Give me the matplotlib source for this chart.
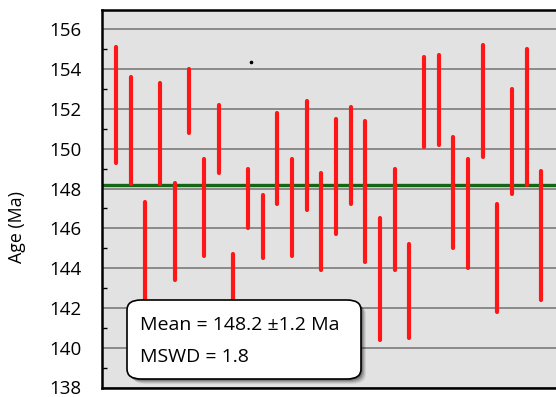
import numpy as np
import matplotlib.pyplot as plt
from matplotlib.patches import FancyBboxPatch

# ---------------------------------------------------------------
# Data (ages in Ma, 2-sigma bar ends)
# ---------------------------------------------------------------
analysis = np.arange(1, 31)
age_hi = [155.1, 153.6, 147.3, 153.3, 148.3, 154.0, 149.5, 152.2, 144.7, 149.0,
          147.7, 151.8, 149.5, 152.4, 148.8, 151.5, 152.1, 151.4, 146.5, 149.0,
          145.2, 154.6, 154.7, 150.6, 149.5, 155.2, 147.2, 153.0, 155.0, 148.9]
age_lo = [149.3, 148.25, 141.2, 148.25, 143.4, 150.8, 144.6, 148.8, 141.0, 146.0,
          144.5, 147.2, 144.6, 146.9, 143.9, 145.7, 147.2, 144.3, 140.4, 143.9,
          140.5, 150.1, 150.2, 145.0, 144.0, 149.6, 141.8, 147.75, 148.2, 142.4]
mean_age = 148.2
mean_err = 1.2
mswd = 1.8
stray_x, stray_y = [10.18], [154.38]

font = "Open Sans"

fig = plt.figure(figsize=(5.56, 3.97), dpi=100)
ax = fig.add_axes([101.5 / 556, 1 - 387.5 / 397, 1 - 101.5 / 556, 378 / 397])
ax.set_facecolor("#e2e2e2")

ax.set_xlim(0, 31)
ax.set_ylim(138, 157)

ax.set_yticks(np.arange(138, 157, 2))
ax.set_yticks(np.arange(139, 157, 2), minor=True)
ax.set_xticks([])
ax.grid(True, axis="y", which="major", color="#8a8a8a", lw=1.4, zorder=1)
ax.set_axisbelow(True)
ax.tick_params(axis="y", which="major", length=0, pad=14.5, labelsize=13.5)
ax.tick_params(axis="y", which="minor", direction="in", length=3.5, width=1.0)
for lab in ax.get_yticklabels():
    lab.set_fontfamily(font)

for side in ["left", "top", "bottom"]:
    ax.spines[side].set_linewidth(1.8)
    ax.spines[side].set_color("black")
ax.spines["right"].set_visible(False)

# weighted mean line
ax.axhline(mean_age, color="#146614", lw=2.4, zorder=2)

# error bars
ax.vlines(analysis, age_lo, age_hi, colors="#ff1616", lw=3.0,
          capstyle="round", zorder=3)
ax.plot(stray_x, stray_y, "o", color="black", ms=1.6, zorder=3)

fig.text(17.5 / 556, 1 - 227 / 397, "Age (Ma)", rotation=90, ha="center",
         va="center", fontsize=12.8, family=font)

# result box with soft drop shadow
bx, by, bw, bh = 127, 300, 234, 79
for i, a in enumerate([0.08, 0.10, 0.14, 0.18, 0.22]):
    off = 5 - i
    sh = FancyBboxPatch(((bx + off) / 556, 1 - (by + bh + off) / 397),
                        bw / 556, bh / 397,
                        boxstyle="round,pad=0,rounding_size=0.025",
                        transform=fig.transFigure, fc="black", ec="none",
                        alpha=a, zorder=5)
    fig.patches.append(sh)
box = FancyBboxPatch((bx / 556, 1 - (by + bh) / 397), bw / 556, bh / 397,
                     boxstyle="round,pad=0,rounding_size=0.025",
                     transform=fig.transFigure, fc="white", ec="black",
                     lw=1.2, zorder=6)
fig.patches.append(box)
fig.text(140.5 / 556, 1 - 329.5 / 397, f"Mean = {mean_age} \u00b1{mean_err} Ma",
         fontsize=14, family=font, ha="left", va="baseline", zorder=7)
fig.text(140.5 / 556, 1 - 362.5 / 397, f"MSWD = {mswd}",
         fontsize=14, family=font, ha="left", va="baseline", zorder=7)

fig.savefig("out.png", dpi=100)
